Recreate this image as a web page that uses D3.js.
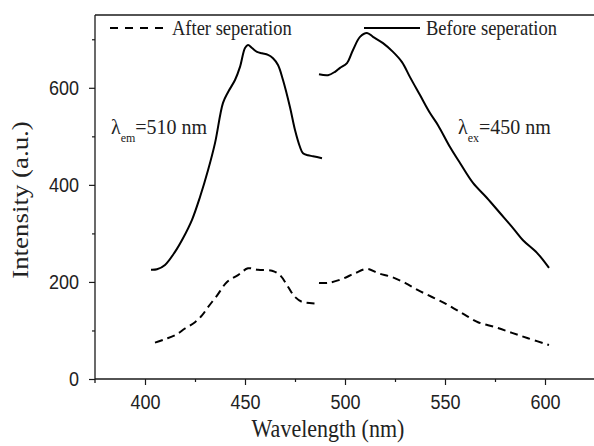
<!DOCTYPE html>
<html><head><meta charset="utf-8">
<script src="https://cdn.jsdelivr.net/npm/d3@7"></script>
<style>body{margin:0;background:#fff}svg{display:block}</style>
</head><body>
<svg id="c" width="594" height="446"></svg>
<script>
// ---- data (wavelength nm, intensity a.u.) ----
const exBeforeX = [403,406,410,415,419,423.5,427.5,431.5,435,439,441.5,445,447.5,450,451.5,453.5,456,458.5,461.5,464,466.5,469,472.5,475,477.5,479,481.5,484,488.5];
const exBeforeY = [225,226,235,262,290,328,375,430,486,569,591,616,643,682,688,682,674,671,668,661,647,616,560,513,478,465,461,459,455];
const emBeforeX = [487,491.5,495,497.5,501,504,507.5,511,514,519,524,528.5,532.5,537.5,542.5,546.5,552.5,557.5,564,571,577.5,584,589,596,602];
const emBeforeY = [628,626,633,641,651,678,705,713,705,692,674,653,622,585,548,523,478,445,404,373,342,311,286,260,229];
const exAfterX = [405,410,415,420,425,428.5,431.5,436,441,446.5,451.5,456.5,463.5,467.5,471.5,475,478.5,483.5,487];
const exAfterY = [75,82,90,104,117,131,148,172,200,214,228,225,223,214,190,169,159,156,155];
const emAfterX = [487,491.5,498.5,505,511,516.5,523.5,530,536.5,543.5,550,555,560,566.5,575,583.5,591.5,602];
const emAfterY = [198,198,206,218,227,218,210,198,183,169,156,144,132,117,107,95,84,70];
const xMajor = [400,450,500,550,600];
const xMinor = [425,475,525,575,625];
const yMajor = [0,200,400,600];
const yMinor = [100,300,500,700];
const legendLabels = ["After seperation","Before seperation"];

const svg = d3.select("#c");
const x = d3.scaleLinear().domain([375,650]).range([95,645]);
const y = d3.scaleLinear().domain([0,750]).range([379,15]);
const ink = "#1a1a1a";
const serif = "'Liberation Serif','Times New Roman',serif";
const sans = "'Liberation Sans',Arial,sans-serif";
const SY = 1.17; // glyphs in the reference are stretched vertically

// frame (top)
svg.append("line").attr("x1",x(375)).attr("x2",x(650)).attr("y1",y(750)).attr("y2",y(750))
  .attr("stroke",ink).attr("stroke-width",1.3);

// x axis
const gx = svg.append("g").attr("transform",`translate(0,${y(0)})`);
gx.call(d3.axisBottom(x).tickValues(xMajor).tickSize(6).tickPadding(9).tickFormat(d3.format("d")));
gx.append("g").call(d3.axisBottom(x).tickValues(xMinor).tickSize(3).tickFormat(""));
gx.selectAll(".domain").remove();
gx.append("line").attr("x1",x(375)).attr("x2",x(650)).attr("stroke",ink).attr("stroke-width",1.3);
gx.selectAll(".tick text").attr("y",15/SY).attr("transform",`scale(1,${SY})`);

// y axis
const gy = svg.append("g").attr("transform",`translate(${x(375)},0)`);
gy.call(d3.axisLeft(y).tickValues(yMajor).tickSize(6).tickPadding(10).tickFormat(d3.format("d")));
gy.append("g").call(d3.axisLeft(y).tickValues(yMinor).tickSize(3).tickFormat(""));
gy.selectAll(".domain").remove();
gy.append("line").attr("y1",y(750)).attr("y2",y(0)+4).attr("stroke",ink).attr("stroke-width",1.3);
gy.selectAll(".tick text").attr("transform",`scale(1,${SY})`);

svg.selectAll(".tick line").attr("stroke",ink).attr("stroke-width",1.2);
svg.selectAll(".tick text").attr("font-family",sans).attr("font-size",18).attr("fill","#222");

// axis titles
svg.append("text").attr("transform",`translate(328,437) scale(1,${SY})`).attr("text-anchor","middle")
  .attr("font-family",serif).attr("font-size",22).attr("fill","#222").text("Wavelength (nm)");
svg.append("text").attr("transform",`translate(28,200) rotate(-90) scale(${SY},1)`).attr("text-anchor","middle")
  .attr("font-family",serif).attr("font-size",23).attr("fill","#222").text("Intensity (a.u.)");

// curves
const line = d3.line().x(d=>x(d[0])).y(d=>y(d[1])).curve(d3.curveCatmullRom);
const series = [
  {xs:exBeforeX, ys:exBeforeY, dash:null},
  {xs:emBeforeX, ys:emBeforeY, dash:null},
  {xs:exAfterX, ys:exAfterY, dash:"8,5"},
  {xs:emAfterX, ys:emAfterY, dash:"8,5"}
];
series.forEach(s=>{
  svg.append("path").datum(s.xs.map((v,i)=>[v,s.ys[i]]))
    .attr("d",line).attr("fill","none").attr("stroke","#000").attr("stroke-width",2)
    .attr("stroke-linejoin","round")
    .attr("stroke-dasharray",s.dash);
});

// legend
const lg = svg.append("g");
lg.append("line").attr("x1",110).attr("x2",165).attr("y1",28).attr("y2",28)
  .attr("stroke","#000").attr("stroke-width",2).attr("stroke-dasharray","8,7");
lg.append("text").attr("transform",`translate(172,35) scale(1,${SY})`).attr("font-family",serif).attr("font-size",18.5)
  .attr("fill","#222").text(legendLabels[0]);
lg.append("line").attr("x1",364).attr("x2",420).attr("y1",28).attr("y2",28)
  .attr("stroke","#000").attr("stroke-width",2);
lg.append("text").attr("transform",`translate(426,35) scale(1,${SY})`).attr("font-family",serif).attr("font-size",18.5)
  .attr("fill","#222").text(legendLabels[1]);

// annotations
function lam(xp, yp, sub, rest){
  const t = svg.append("text").attr("transform",`translate(${xp},${yp}) scale(1,1.08)`).attr("font-family",serif)
    .attr("font-size",20).attr("fill","#222");
  t.append("tspan").text("λ");
  t.append("tspan").attr("font-size",12).attr("dy",7).text(sub);
  t.append("tspan").attr("dy",-7).text(rest);
}
lam(111,134,"em","=510 nm");
lam(458,134,"ex","=450 nm");
</script>
</body></html>
